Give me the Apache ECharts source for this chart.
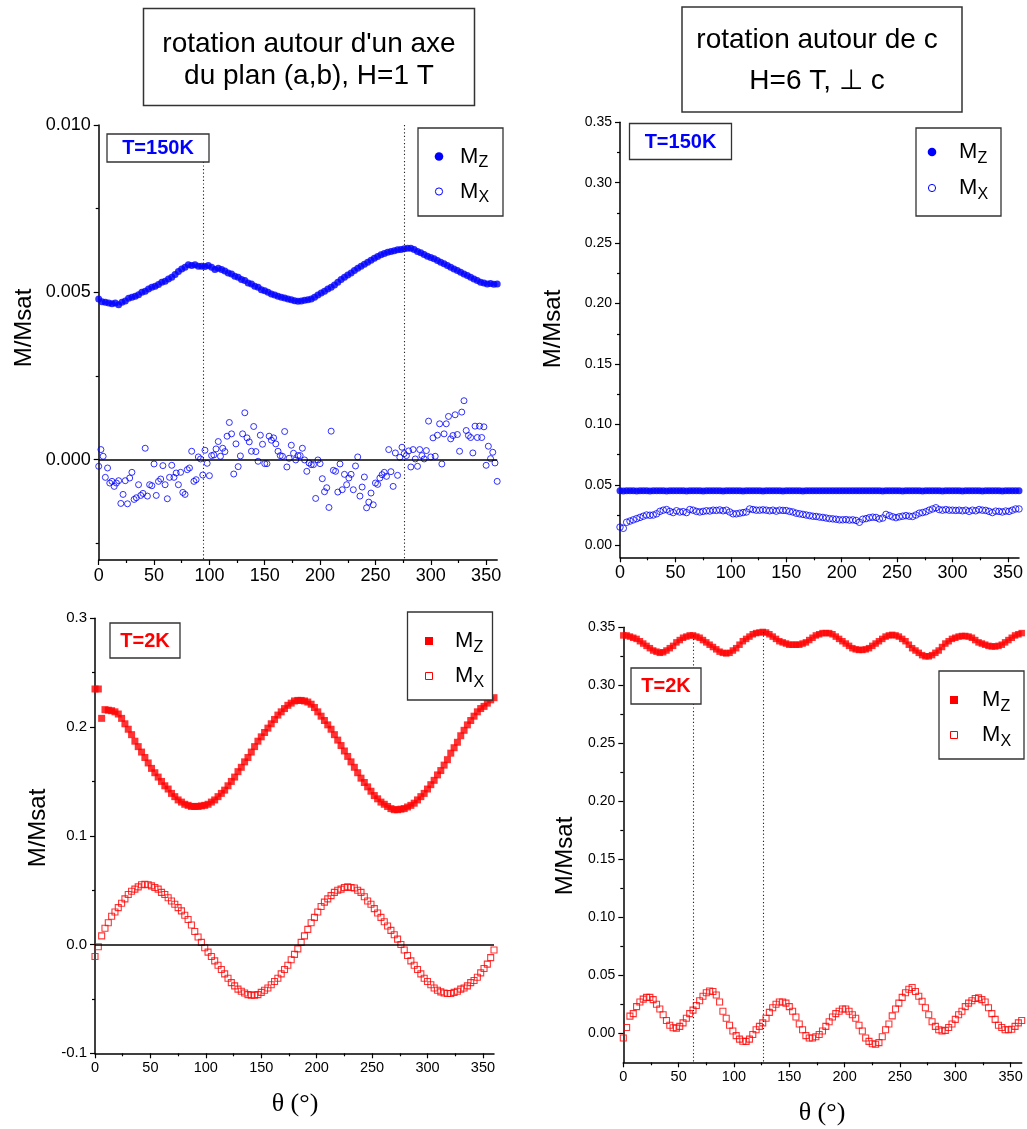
<!DOCTYPE html>
<html>
<head>
<meta charset="utf-8">
<script src="https://cdn.jsdelivr.net/npm/echarts@6/dist/echarts.min.js"></script>
<style>html,body{margin:0;padding:0;background:#fff;}#c{width:1027px;height:1129px;}</style>
</head>
<body>
<div id="c"></div>
<script>
// ---------------- DATA ----------------
const theta3 = [0,3,6,9,12,15,18,21,24,27,30,33,36,39,42,45,48,51,54,57,60,63,66,69,72,75,78,81,84,87,
90,93,96,99,102,105,108,111,114,117,120,123,126,129,132,135,138,141,144,147,150,153,156,159,162,165,168,171,174,177,
180,183,186,189,192,195,198,201,204,207,210,213,216,219,222,225,228,231,234,237,240,243,246,249,252,255,258,261,264,267,
270,273,276,279,282,285,288,291,294,297,300,303,306,309,312,315,318,321,324,327,330,333,336,339,342,345,348,351,354,357,360];
const theta2 = [0,2,4,6,8,10,12,14,16,18,20,22,24,26,28,30,32,34,36,38,40,42,44,46,48,50,52,54,56,58,
60,62,64,66,68,70,72,74,76,78,80,82,84,86,88,90,92,94,96,98,100,102,104,106,108,110,112,114,116,118,
120,122,124,126,128,130,132,134,136,138,140,142,144,146,148,150,152,154,156,158,160,162,164,166,168,170,172,174,176,178,
180,182,184,186,188,190,192,194,196,198,200,202,204,206,208,210,212,214,216,218,220,222,224,226,228,230,232,234,236,238,
240,242,244,246,248,250,252,254,256,258,260,262,264,266,268,270,272,274,276,278,280,282,284,286,288,290,292,294,296,298,
300,302,304,306,308,310,312,314,316,318,320,322,324,326,328,330,332,334,336,338,340,342,344,346,348,350,352,354,356,358,360];

// Panel A : T=150K, H=1 T, rotation about an axis of the (a,b) plane
const A_Mz = [
0.00480,0.00472,0.00470,0.00468,0.00466,0.00468,0.00463,0.00470,0.00474,0.00482,
0.00485,0.00488,0.00493,0.00500,0.00503,0.00510,0.00515,0.00518,0.00523,0.00530,
0.00533,0.00540,0.00545,0.00553,0.00562,0.00570,0.00575,0.00582,0.00580,0.00582,
0.00578,0.00578,0.00577,0.00580,0.00575,0.00568,0.00572,0.00568,0.00564,0.00558,
0.00555,0.00548,0.00545,0.00538,0.00535,0.00528,0.00525,0.00518,0.00515,0.00508,
0.00505,0.00500,0.00495,0.00492,0.00488,0.00485,0.00483,0.00480,0.00478,0.00475,
0.00473,0.00474,0.00476,0.00478,0.00480,0.00485,0.00492,0.00498,0.00503,0.00510,
0.00515,0.00522,0.00530,0.00538,0.00545,0.00552,0.00558,0.00565,0.00572,0.00578,
0.00584,0.00590,0.00596,0.00602,0.00607,0.00612,0.00616,0.00620,0.00622,0.00624,
0.00627,0.00628,0.00630,0.00632,0.00632,0.00628,0.00622,0.00618,0.00613,0.00608,
0.00604,0.00600,0.00595,0.00590,0.00585,0.00580,0.00575,0.00570,0.00565,0.00560,
0.00555,0.00550,0.00545,0.00540,0.00535,0.00530,0.00528,0.00525,0.00526,0.00524,
0.00525];
const A_Mx = [
-0.00020,0.00030,0.00010,-0.00053,-0.00025,-0.00070,-0.00065,-0.00080,-0.00070,-0.00063,
-0.00131,-0.00104,-0.00063,-0.00132,-0.00055,-0.00038,-0.00119,-0.00114,-0.00075,-0.00107,
-0.00101,0.00034,-0.00109,-0.00075,-0.00078,-0.00013,-0.00107,-0.00065,-0.00058,-0.00018,
-0.00075,-0.00117,-0.00053,-0.00017,-0.00053,-0.00040,-0.00075,-0.00038,-0.00098,-0.00104,
-0.00030,-0.00025,0.00025,-0.00065,-0.00060,0.00008,0.00002,-0.00046,0.00028,-0.00011,
-0.00048,0.00012,0.00014,0.00032,0.00054,0.00010,0.00034,0.00024,0.00070,0.00111,
0.00077,-0.00043,0.00047,-0.00021,0.00011,0.00077,0.00140,0.00065,0.00053,0.00025,
0.00099,0.00024,-0.00005,0.00073,0.00046,-0.00012,-0.00012,0.00070,0.00058,0.00065,
0.00047,0.00025,0.00012,0.00010,0.00084,-0.00022,0.00004,0.00043,0.00019,-0.00001,
0.00012,0.00012,0.00034,-0.00001,-0.00035,-0.00010,-0.00015,-0.00015,-0.00116,-0.00001,
-0.00012,-0.00057,-0.00096,-0.00084,-0.00143,0.00085,-0.00032,-0.00035,-0.00097,-0.00013,
-0.00090,-0.00044,-0.00075,-0.00055,-0.00044,-0.00090,-0.00019,0.00008,-0.00109,-0.00082,
-0.00052,-0.00144,-0.00127,-0.00100,-0.00135,-0.00070,-0.00074,-0.00055,-0.00045,-0.00038,
-0.00050,0.00030,-0.00036,-0.00080,0.00020,-0.00047,0.00007,0.00037,0.00018,0.00012,
0.00026,-0.00022,0.00030,0.00002,-0.00020,0.00030,0.00012,0.00002,0.00027,0.00115,
0.00008,0.00065,0.00010,0.00073,0.00107,-0.00013,0.00077,0.00107,0.00129,0.00062,
0.00072,0.00134,0.00075,0.00025,0.00142,0.00176,0.00087,0.00072,0.00066,0.00020,
0.00100,0.00066,0.00100,0.00066,0.00098,-0.00017,0.00040,0.00003,0.00022,-0.00010,
-0.00065];

// Panel B : T=150K, H=6 T, rotation about c
const B_Mz = [
0.0450,0.0449,0.0451,0.0450,0.0450,0.0449,0.0450,0.0451,0.0450,0.0449,
0.0450,0.0450,0.0451,0.0450,0.0449,0.0450,0.0450,0.0451,0.0450,0.0450,
0.0449,0.0450,0.0450,0.0451,0.0450,0.0449,0.0450,0.0450,0.0450,0.0451,
0.0450,0.0449,0.0450,0.0450,0.0451,0.0450,0.0450,0.0449,0.0450,0.0450,
0.0451,0.0450,0.0450,0.0449,0.0450,0.0450,0.0451,0.0450,0.0450,0.0449,
0.0450,0.0450,0.0451,0.0450,0.0450,0.0449,0.0450,0.0450,0.0451,0.0450,
0.0451,0.0450,0.0450,0.0451,0.0450,0.0451,0.0450,0.0451,0.0450,0.0450,
0.0451,0.0450,0.0451,0.0450,0.0450,0.0451,0.0450,0.0451,0.0450,0.0449,
0.0450,0.0450,0.0451,0.0450,0.0450,0.0449,0.0450,0.0450,0.0451,0.0450,
0.0450,0.0449,0.0450,0.0450,0.0451,0.0450,0.0450,0.0449,0.0450,0.0450,
0.0451,0.0450,0.0450,0.0449,0.0450,0.0450,0.0451,0.0450,0.0450,0.0449,
0.0450,0.0450,0.0451,0.0450,0.0450,0.0449,0.0450,0.0450,0.0451,0.0450,
0.0450];
const B_Mx = [
0.0150,0.0140,0.0190,0.0200,0.0210,0.0220,0.0230,0.0240,0.0250,0.0248,
0.0250,0.0260,0.0280,0.0290,0.0295,0.0280,0.0270,0.0285,0.0275,0.0278,
0.0270,0.0295,0.0290,0.0280,0.0275,0.0280,0.0285,0.0283,0.0290,0.0288,
0.0292,0.0285,0.0290,0.0275,0.0260,0.0260,0.0265,0.0270,0.0275,0.0300,
0.0295,0.0290,0.0290,0.0293,0.0290,0.0285,0.0290,0.0282,0.0290,0.0288,
0.0287,0.0280,0.0275,0.0265,0.0260,0.0255,0.0250,0.0245,0.0240,0.0238,
0.0233,0.0230,0.0225,0.0220,0.0218,0.0215,0.0210,0.0210,0.0212,0.0208,
0.0210,0.0205,0.0190,0.0215,0.0220,0.0228,0.0232,0.0230,0.0218,0.0225,
0.0255,0.0245,0.0235,0.0228,0.0235,0.0240,0.0245,0.0240,0.0238,0.0250,
0.0265,0.0270,0.0277,0.0290,0.0300,0.0310,0.0295,0.0290,0.0295,0.0290,
0.0290,0.0288,0.0290,0.0285,0.0290,0.0280,0.0290,0.0285,0.0295,0.0290,
0.0288,0.0280,0.0270,0.0282,0.0280,0.0275,0.0283,0.0280,0.0290,0.0300,
0.0300];

// Panel C : T=2K, H=1 T
const C_Mz = [
0.235,0.235,0.208,0.216,0.2155,0.215,0.214,0.212,0.208,0.203,
0.198,0.193,0.187,0.182,0.177,0.172,0.167,0.162,0.158,0.154,
0.150,0.146,0.143,0.139,0.136,0.133,0.131,0.129,0.128,0.127,
0.127,0.127,0.1275,0.128,0.129,0.131,0.133,0.136,0.139,0.142,
0.146,0.150,0.154,0.159,0.163,0.168,0.172,0.177,0.182,0.187,
0.191,0.195,0.199,0.203,0.207,0.211,0.214,0.217,0.220,0.222,
0.224,0.2245,0.2245,0.224,0.223,0.221,0.218,0.214,0.210,0.206,
0.202,0.198,0.193,0.188,0.183,0.178,0.173,0.168,0.163,0.158,
0.153,0.149,0.145,0.141,0.137,0.134,0.131,0.129,0.127,0.125,
0.124,0.124,0.1245,0.125,0.1265,0.128,0.130,0.133,0.136,0.139,
0.143,0.147,0.151,0.156,0.160,0.165,0.170,0.176,0.181,0.186,
0.192,0.197,0.202,0.206,0.210,0.214,0.217,0.219,0.222,0.225,
0.227];
const C_Mx = [
-0.011,-0.002,0.008,0.015,0.020,0.026,0.030,0.034,0.038,0.042,
0.046,0.049,0.051,0.053,0.055,0.0555,0.055,0.054,0.0525,0.051,
0.048,0.046,0.043,0.040,0.037,0.034,0.031,0.027,0.023,0.018,
0.012,0.007,0.002,-0.003,-0.007,-0.011,-0.015,-0.019,-0.023,-0.027,
-0.031,-0.035,-0.038,-0.041,-0.043,-0.0445,-0.046,-0.0465,-0.0465,-0.046,
-0.044,-0.042,-0.040,-0.037,-0.034,-0.031,-0.027,-0.023,-0.019,-0.014,
-0.009,-0.004,0.002,0.008,0.014,0.020,0.025,0.030,0.035,0.039,
0.042,0.045,0.048,0.050,0.051,0.0525,0.053,0.0525,0.052,0.050,
0.048,0.044,0.040,0.037,0.033,0.029,0.025,0.021,0.017,0.013,
0.009,0.005,0.000,-0.005,-0.010,-0.015,-0.019,-0.023,-0.027,-0.031,
-0.034,-0.037,-0.040,-0.042,-0.0435,-0.0445,-0.045,-0.045,-0.044,-0.043,
-0.041,-0.040,-0.038,-0.035,-0.033,-0.030,-0.026,-0.022,-0.018,-0.012,
-0.005];

// Panel D : T=2K, H=6 T
const D_Mz = [
0.343,0.343,0.342,0.341,0.340,0.338,0.336,0.334,0.332,0.330,
0.329,0.328,0.3285,0.330,0.332,0.334,0.337,0.339,0.341,0.342,
0.343,0.343,0.342,0.341,0.339,0.337,0.335,0.333,0.331,0.329,
0.328,0.3275,0.328,0.330,0.332,0.335,0.338,0.340,0.342,0.344,
0.345,0.3455,0.346,0.3455,0.344,0.342,0.340,0.338,0.337,0.336,
0.335,0.335,0.335,0.335,0.336,0.337,0.339,0.341,0.343,0.344,
0.345,0.345,0.345,0.344,0.342,0.340,0.338,0.336,0.334,0.332,
0.331,0.3305,0.3305,0.331,0.332,0.334,0.336,0.338,0.340,0.342,
0.343,0.3435,0.343,0.342,0.340,0.338,0.335,0.332,0.330,0.328,
0.326,0.325,0.325,0.326,0.328,0.330,0.333,0.336,0.338,0.340,
0.341,0.342,0.3425,0.3425,0.342,0.341,0.339,0.337,0.336,0.335,
0.334,0.3335,0.3335,0.334,0.335,0.337,0.339,0.341,0.343,0.344,
0.345];
const D_Mx = [
-0.004,0.005,0.0148,0.017,0.023,0.027,0.0295,0.031,0.031,0.029,
0.025,0.021,0.016,0.011,0.007,0.0048,0.0045,0.006,0.009,0.013,
0.017,0.020,0.024,0.028,0.032,0.035,0.0365,0.036,0.033,0.027,
0.019,0.013,0.007,0.002,-0.002,-0.005,-0.0068,-0.007,-0.005,-0.001,
0.003,0.006,0.009,0.013,0.018,0.022,0.025,0.027,0.027,0.026,
0.023,0.019,0.014,0.008,0.003,-0.002,-0.004,-0.004,-0.003,-0.001,
0.002,0.006,0.010,0.014,0.017,0.019,0.021,0.021,0.019,0.016,
0.013,0.007,0.002,-0.004,-0.007,-0.009,-0.0095,-0.008,-0.003,0.003,
0.008,0.015,0.021,0.026,0.031,0.035,0.038,0.0395,0.036,0.032,
0.0276,0.022,0.016,0.010,0.006,0.003,0.002,0.0025,0.005,0.008,
0.012,0.016,0.019,0.023,0.026,0.028,0.030,0.0305,0.029,0.027,
0.022,0.017,0.012,0.007,0.005,0.003,0.003,0.0035,0.006,0.009,
0.011];

// tick values
const xMajor = [0,50,100,150,200,250,300,350];
const xMinor = [25,75,125,175,225,275,325];
const yMajorA = [0,0.005,0.010];
const yMinorA = [-0.0025,0.0025,0.0075];
const yMajorB = [0,0.05,0.10,0.15,0.20,0.25,0.30,0.35];
const yMinorB = [0.025,0.075,0.125,0.175,0.225,0.275,0.325];
const yMajorC = [-0.1,0,0.1,0.2,0.3];
const yMinorC = [-0.05,0.05,0.15,0.25];
const yMajorD = [0,0.05,0.10,0.15,0.20,0.25,0.30,0.35];
const yMinorD = [0.025,0.075,0.125,0.175,0.225,0.275,0.325];

// dotted reference lines (angle, top value)
const refA = [94, 276];   const refATop = [0.0089, 0.0100];
const refC = [4, 185];    const refCTop = [0.306, 0.306];
const refD = [63, 126.5]; const refDTop = [0.343, 0.346];

// ---------------- CHART ----------------
const SANS = '"Liberation Sans", Arial, Helvetica, sans-serif';
const SERIF = '"Liberation Serif", "Times New Roman", serif';
const BLUE = '#0000ff', RED = '#ff0000';
const zip = (xs, ys) => ys.map((v, i) => [xs[i], v]);

const panels = [
  {grid:{left:98.7, top:125, width:398.5, height:435}, ymin:-0.003, ymax:0.010, yMaj:yMajorA, yMin:yMinorA, dec:3, yfs:18, xfs:18},
  {grid:{left:620, top:122.3, width:399, height:435}, ymin:-0.01, ymax:0.35, yMaj:yMajorB, yMin:yMinorB, dec:2, yfs:14, xfs:18},
  {grid:{left:95, top:618.3, width:399, height:435}, ymin:-0.1, ymax:0.3, yMaj:yMajorC, yMin:yMinorC, dec:1, yfs:15, xfs:14.5},
  {grid:{left:623.3, top:627.3, width:398.4, height:435}, ymin:-0.025, ymax:0.35, yMaj:yMajorD, yMin:yMinorD, dec:2, yfs:14, xfs:14.5}
];

const grids = [], xAxes = [], yAxes = [];
panels.forEach((p, i) => {
  grids.push(Object.assign({containLabel:false}, p.grid));
  const axLine = {show:true, onZero:false, lineStyle:{color:'#000', width:1.5}};
  xAxes.push({gridIndex:i, type:'value', min:0, max:360, position:'bottom',
    axisLine:axLine,
    axisTick:{show:true, length:5, customValues:xMajor, lineStyle:{color:'#000', width:1.2}},
    axisLabel:{show:true, customValues:xMajor, fontSize:p.xfs, fontFamily:SANS, color:'#000', margin:7},
    splitLine:{show:false}});
  xAxes.push({gridIndex:i, type:'value', min:0, max:360, position:'bottom', offset:0,
    axisLine:{show:false, onZero:false},
    axisTick:{show:true, length:3, customValues:xMinor, lineStyle:{color:'#000', width:1.2}},
    axisLabel:{show:false}, splitLine:{show:false}});
  yAxes.push({gridIndex:i, type:'value', min:p.ymin, max:p.ymax, position:'left',
    axisLine:axLine,
    axisTick:{show:true, length:5, customValues:p.yMaj, lineStyle:{color:'#000', width:1.2}},
    axisLabel:{show:true, customValues:p.yMaj, fontSize:p.yfs, fontFamily:SANS, color:'#000', margin:8,
      formatter:(v) => Number(v).toFixed(p.dec)},
    splitLine:{show:false}});
  yAxes.push({gridIndex:i, type:'value', min:p.ymin, max:p.ymax, position:'left', offset:0,
    axisLine:{show:false, onZero:false},
    axisTick:{show:true, length:3, customValues:p.yMin, lineStyle:{color:'#000', width:1.2}},
    axisLabel:{show:false}, splitLine:{show:false}});
});

function refLines(xs, tops, ybot) {
  return xs.map((x, i) => [{coord:[x, tops[i]]}, {coord:[x, ybot]}]);
}
const dotted = (data) => ({silent:true, symbol:['none','none'], animation:false,
  label:{show:false}, lineStyle:{type:[1.2, 2.4], color:'#222', width:1.1}, emphasis:{disabled:true}, data});
const zeroLine = () => ({silent:true, symbol:['none','none'], animation:false,
  label:{show:false}, lineStyle:{type:'solid', color:'#000', width:1.5}, emphasis:{disabled:true},
  data:[[{coord:[0,0]},{coord:[360,0]}]]});

const filled = (c) => ({color:c});
const hollow = (c, w) => ({color:'rgba(255,255,255,0)', borderColor:c, borderWidth:w});

const series = [
  {type:'scatter', name:'A_Mz', xAxisIndex:0, yAxisIndex:0, data:zip(theta3, A_Mz), symbol:'circle', symbolSize:7,
   itemStyle:filled(BLUE), clip:false, markLine:dotted(refLines(refA, refATop, -0.003))},
  {type:'scatter', name:'A_Mx', xAxisIndex:0, yAxisIndex:0, data:zip(theta2, A_Mx), symbol:'circle', symbolSize:6,
   itemStyle:hollow(BLUE, 1), clip:false, markLine:zeroLine()},
  {type:'scatter', name:'B_Mz', xAxisIndex:2, yAxisIndex:2, data:zip(theta3, B_Mz), symbol:'circle', symbolSize:7,
   itemStyle:filled(BLUE)},
  {type:'scatter', name:'B_Mx', xAxisIndex:2, yAxisIndex:2, data:zip(theta3, B_Mx), symbol:'circle', symbolSize:6.5,
   itemStyle:hollow(BLUE, 1)},
  {type:'scatter', name:'C_Mz', xAxisIndex:4, yAxisIndex:4, data:zip(theta3, C_Mz), symbol:'rect', symbolSize:7,
   itemStyle:filled(RED), clip:false, markLine:dotted(refLines(refC, refCTop, -0.1))},
  {type:'scatter', name:'C_Mx', xAxisIndex:4, yAxisIndex:4, data:zip(theta3, C_Mx), symbol:'rect', symbolSize:6,
   itemStyle:hollow(RED, 1.1), clip:false, markLine:zeroLine()},
  {type:'scatter', name:'D_Mz', xAxisIndex:6, yAxisIndex:6, data:zip(theta3, D_Mz), symbol:'rect', symbolSize:6.5,
   itemStyle:filled(RED), clip:false, markLine:dotted(refLines(refD, refDTop, -0.025))},
  {type:'scatter', name:'D_Mx', xAxisIndex:6, yAxisIndex:6, data:zip(theta3, D_Mx), symbol:'rect', symbolSize:6,
   itemStyle:hollow(RED, 1.1)}
];

// ---------- graphic: titles, boxes, legends, axis names ----------
const G = [];
function box(x, y, w, h, lw) {
  G.push({type:'rect', shape:{x, y, width:w, height:h}, z:100,
    style:{fill:'#fff', stroke:'#333', lineWidth:lw || 1.3}});
}
function txt(t, x, y, o) {
  G.push({type:'text', x, y, z:101, rotation:(o && o.rot) || 0,
    style:Object.assign({text:t, x:0, y:0, align:'center', verticalAlign:'middle',
      fontFamily:SANS, fontSize:22, fill:'#000'}, o || {})});
}
// titles
box(143.5, 8.5, 331, 97, 1.5);
txt("rotation autour d'un axe", 309, 44, {fontSize:28});
txt('du plan (a,b), H=1 T', 309, 76, {fontSize:28});
box(682, 7, 280, 105, 1.5);
txt('rotation autour de c', 817, 40, {fontSize:28});
txt('H=6 T, \u22A5 c', 817, 81, {fontSize:28});
// temperature boxes
box(107, 134, 102, 28); txt('T=150K', 158, 148.5, {fontSize:20, fontWeight:'bold', fill:BLUE});
box(629.5, 123.5, 102, 36); txt('T=150K', 680.5, 142, {fontSize:20, fontWeight:'bold', fill:BLUE});
box(110, 623, 70, 35); txt('T=2K', 145, 641, {fontSize:20, fontWeight:'bold', fill:RED});
box(631, 668, 70, 36); txt('T=2K', 666, 686, {fontSize:20, fontWeight:'bold', fill:RED});
// legends
function legend(bx, by, mx, my1, my2, tx, shape, color) {
  box(bx, by, 85, 88, 1.3);
  if (shape === 'circle') {
    G.push({type:'circle', z:102, shape:{cx:mx, cy:my1, r:4.3}, style:{fill:color}});
    G.push({type:'circle', z:102, shape:{cx:mx, cy:my2, r:3.6}, style:{fill:'#fff', stroke:color, lineWidth:1}});
  } else {
    G.push({type:'rect', z:102, shape:{x:mx-4, y:my1-4, width:8, height:8}, style:{fill:color}});
    G.push({type:'rect', z:102, shape:{x:mx-3.5, y:my2-3.5, width:7, height:7}, style:{fill:'#fff', stroke:color, lineWidth:1}});
  }
  txt('M', tx, my1, {align:'left', fontSize:22});
  txt('Z', tx + 18.5, my1 + 6.5, {align:'left', fontSize:16});
  txt('M', tx, my2, {align:'left', fontSize:22});
  txt('X', tx + 18.5, my2 + 6.5, {align:'left', fontSize:16});
}
legend(418, 128, 439, 156.5, 191.5, 460, 'circle', BLUE);
legend(916, 128, 932, 152, 188, 959, 'circle', BLUE);
legend(407.5, 612, 429, 641, 676, 455, 'rect', RED);
legend(939, 671, 954, 700, 735, 982, 'rect', RED);
// axis names
txt('M/Msat', 24.5, 328, {rot:Math.PI/2, fontSize:24});
txt('M/Msat', 553, 329, {rot:Math.PI/2, fontSize:24});
txt('M/Msat', 38.5, 828, {rot:Math.PI/2, fontSize:24});
txt('M/Msat', 565, 856, {rot:Math.PI/2, fontSize:24});
txt('\u03B8 (\u00B0)', 295, 1104, {fontFamily:SERIF, fontSize:26});
txt('\u03B8 (\u00B0)', 822, 1113, {fontFamily:SERIF, fontSize:26});

const chart = echarts.init(document.getElementById('c'), null, {renderer:'canvas', width:1027, height:1129});
chart.setOption({
  backgroundColor:'#fff',
  animation:false,
  grid:grids,
  xAxis:xAxes,
  yAxis:yAxes,
  series:series,
  graphic:{elements:G}
});
</script>
</body>
</html>
